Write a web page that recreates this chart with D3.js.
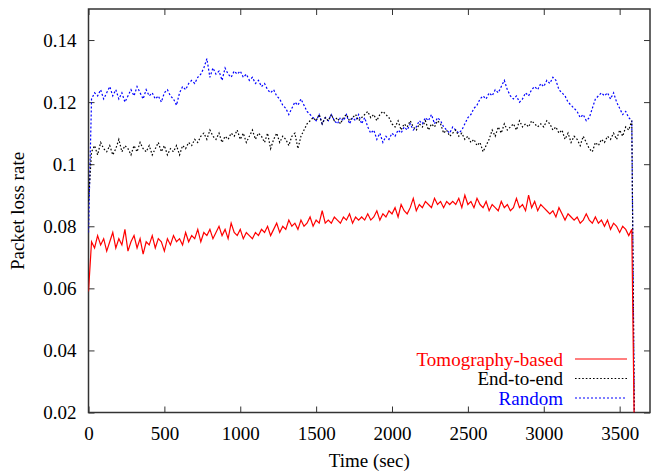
<!DOCTYPE html>
<html><head><meta charset="utf-8">
<script src="https://cdn.jsdelivr.net/npm/d3@7"></script>
<style>
body{margin:0;background:#fff}
svg{display:block}
svg text{font-family:"Liberation Serif","Times New Roman","DejaVu Serif",serif !important;font-size:19px}
</style>
</head><body>
<svg id="c" width="653" height="473"></svg>
<script>
const xTicks = [0,500,1000,1500,2000,2500,3000,3500];
const yTicks = [0.02,0.04,0.06,0.08,0.1,0.12,0.14];
const yTickLabels = ["0.02","0.04","0.06","0.08","0.1","0.12","0.14"];
const seriesNames = ["Tomography-based","End-to-end","Random"];
const timeStep = 20;
const tomography = [
0.059,0.075,0.073,0.077,0.074,0.076,0.072,0.075,0.078,0.073,
0.076,0.074,0.079,0.072,0.075,0.077,0.073,0.076,0.071,0.075,
0.074,0.077,0.073,0.076,0.075,0.072,0.076,0.074,0.077,0.075,
0.076,0.074,0.078,0.075,0.077,0.076,0.079,0.075,0.078,0.077,
0.079,0.076,0.078,0.080,0.077,0.079,0.076,0.081,0.078,0.077,
0.079,0.076,0.078,0.077,0.076,0.078,0.077,0.079,0.078,0.080,
0.077,0.079,0.081,0.078,0.080,0.079,0.082,0.080,0.081,0.079,
0.082,0.080,0.081,0.083,0.080,0.082,0.081,0.085,0.081,0.082,
0.081,0.083,0.082,0.081,0.083,0.082,0.084,0.081,0.083,0.082,
0.083,0.082,0.084,0.082,0.083,0.085,0.082,0.084,0.083,0.085,
0.084,0.086,0.083,0.087,0.085,0.084,0.086,0.089,0.085,0.087,
0.086,0.088,0.087,0.086,0.089,0.087,0.088,0.086,0.088,0.087,
0.088,0.087,0.089,0.086,0.090,0.087,0.088,0.086,0.089,0.087,
0.086,0.088,0.085,0.087,0.086,0.085,0.088,0.086,0.087,0.085,
0.086,0.089,0.086,0.087,0.085,0.090,0.086,0.088,0.085,0.087,
0.086,0.085,0.084,0.085,0.083,0.086,0.084,0.082,0.084,0.083,
0.082,0.083,0.081,0.082,0.084,0.082,0.081,0.083,0.081,0.082,
0.080,0.082,0.079,0.081,0.080,0.078,0.080,0.079,0.077,0.079,
0.0];
const endToEnd = [
0.088,0.104,0.106,0.103,0.107,0.105,0.104,0.106,0.103,0.105,
0.108,0.104,0.106,0.105,0.103,0.106,0.104,0.107,0.105,0.104,
0.106,0.103,0.105,0.107,0.104,0.106,0.103,0.105,0.104,0.106,
0.103,0.106,0.105,0.107,0.106,0.108,0.107,0.109,0.110,0.108,
0.111,0.109,0.108,0.110,0.107,0.109,0.108,0.110,0.109,0.111,
0.108,0.110,0.107,0.109,0.111,0.108,0.110,0.109,0.107,0.110,
0.105,0.108,0.110,0.107,0.109,0.108,0.106,0.109,0.110,0.105,
0.109,0.111,0.113,0.114,0.115,0.114,0.116,0.113,0.115,0.114,
0.116,0.114,0.115,0.113,0.115,0.116,0.114,0.115,0.116,0.114,
0.115,0.116,0.117,0.115,0.116,0.114,0.116,0.117,0.116,0.115,
0.113,0.112,0.114,0.111,0.113,0.112,0.114,0.112,0.111,0.113,
0.112,0.114,0.111,0.113,0.112,0.114,0.113,0.110,0.111,0.109,
0.110,0.111,0.109,0.110,0.108,0.109,0.107,0.108,0.106,0.107,
0.104,0.106,0.108,0.111,0.109,0.112,0.110,0.113,0.111,0.112,
0.113,0.111,0.114,0.112,0.113,0.112,0.114,0.113,0.112,0.113,
0.112,0.114,0.113,0.111,0.112,0.110,0.111,0.108,0.110,0.107,
0.109,0.108,0.106,0.109,0.107,0.105,0.104,0.107,0.106,0.108,
0.107,0.109,0.108,0.110,0.108,0.111,0.109,0.112,0.111,0.114,
0.0];
const random = [
0.078,0.121,0.123,0.122,0.124,0.121,0.123,0.125,0.122,0.124,
0.121,0.123,0.120,0.122,0.124,0.122,0.125,0.123,0.121,0.124,
0.122,0.123,0.121,0.122,0.120,0.123,0.124,0.122,0.121,0.119,
0.123,0.125,0.124,0.126,0.127,0.126,0.128,0.129,0.131,0.134,
0.128,0.131,0.129,0.130,0.127,0.131,0.129,0.128,0.130,0.129,
0.130,0.128,0.129,0.127,0.128,0.126,0.127,0.125,0.126,0.124,
0.123,0.124,0.122,0.121,0.119,0.118,0.116,0.118,0.120,0.119,
0.121,0.119,0.117,0.116,0.115,0.114,0.116,0.113,0.115,0.114,
0.116,0.114,0.113,0.115,0.114,0.116,0.113,0.115,0.114,0.116,
0.113,0.115,0.112,0.110,0.111,0.108,0.110,0.107,0.109,0.108,
0.110,0.109,0.111,0.110,0.112,0.111,0.113,0.111,0.112,0.114,
0.113,0.115,0.114,0.116,0.113,0.115,0.114,0.112,0.111,0.110,
0.112,0.111,0.110,0.111,0.113,0.115,0.116,0.118,0.119,0.121,
0.122,0.121,0.123,0.122,0.124,0.123,0.125,0.127,0.124,0.122,
0.121,0.122,0.120,0.121,0.123,0.122,0.124,0.125,0.124,0.126,
0.125,0.127,0.126,0.128,0.127,0.124,0.123,0.122,0.120,0.119,
0.118,0.117,0.115,0.116,0.114,0.115,0.118,0.121,0.122,0.123,
0.122,0.123,0.121,0.123,0.120,0.118,0.116,0.117,0.115,0.114,
0.0];

const svg = d3.select("#c");
const L = 88.5, R = 650, T = 9, B = 412.5;
const x = d3.scaleLinear().domain([0,3700]).range([L,R]);
const y = d3.scaleLinear().domain([0.02,0.15]).range([B,T]);

svg.append("defs").append("clipPath").attr("id","clip")
  .append("rect").attr("x",L).attr("y",T).attr("width",R-L).attr("height",B-T);

function styleAxis(g){
  g.attr("font-family",null).attr("font-size",null);
  g.select(".domain").remove();
  g.selectAll(".tick line").attr("stroke","#333").attr("stroke-width",1);
  g.selectAll("text").attr("fill","#000");
}
svg.append("g").attr("transform",`translate(0,${B})`)
  .call(d3.axisBottom(x).tickValues(xTicks).tickSize(-6).tickPadding(14).tickFormat(d3.format("d")))
  .call(styleAxis);
svg.append("g").attr("transform",`translate(0,${T})`)
  .call(d3.axisTop(x).tickValues(xTicks).tickSize(-6).tickFormat(""))
  .call(styleAxis);
svg.append("g").attr("transform",`translate(${L},0)`)
  .call(d3.axisLeft(y).tickValues(yTicks).tickSize(-6).tickPadding(12).tickFormat((d,i)=>yTickLabels[i]))
  .call(styleAxis);
svg.append("g").attr("transform",`translate(${R},0)`)
  .call(d3.axisRight(y).tickValues(yTicks).tickSize(-6).tickFormat(""))
  .call(styleAxis);

svg.append("rect").attr("x",L).attr("y",T).attr("width",R-L).attr("height",B-T)
  .attr("fill","none").attr("stroke","#333").attr("stroke-width",1.5);

const series = [
  {name:seriesNames[0], values:tomography, color:"#ff0000", dash:null},
  {name:seriesNames[1], values:endToEnd, color:"#000000", dash:"1.6,2"},
  {name:seriesNames[2], values:random, color:"#0000ff", dash:"2,2"}
];
const line = d3.line().x((d,i)=>x(i*timeStep)).y(d=>y(d));
const plot = svg.append("g").attr("clip-path","url(#clip)");
[series[2],series[1],series[0]].forEach(s=>{
  plot.append("path").datum(s.values).attr("d",line)
    .attr("fill","none").attr("stroke",s.color).attr("stroke-width",1.2)
    .attr("stroke-dasharray",s.dash);
});

// legend
const lg = svg.append("g");
series.forEach((s,i)=>{
  const yy = 359 + i*19.5;
  lg.append("text").attr("x",563).attr("y",yy).attr("dy","0.35em")
    .attr("text-anchor","end").attr("fill",s.color).text(s.name);
  lg.append("line").attr("x1",575).attr("x2",627).attr("y1",yy).attr("y2",yy)
    .attr("stroke",s.color).attr("stroke-width",1.2).attr("stroke-dasharray",s.dash);
});

svg.append("text").attr("x",(L+R)/2).attr("y",467).attr("text-anchor","middle").text("Time (sec)");
svg.append("text").attr("transform","translate(24,211) rotate(-90)").attr("text-anchor","middle").text("Packet loss rate");
</script>
</body></html>
